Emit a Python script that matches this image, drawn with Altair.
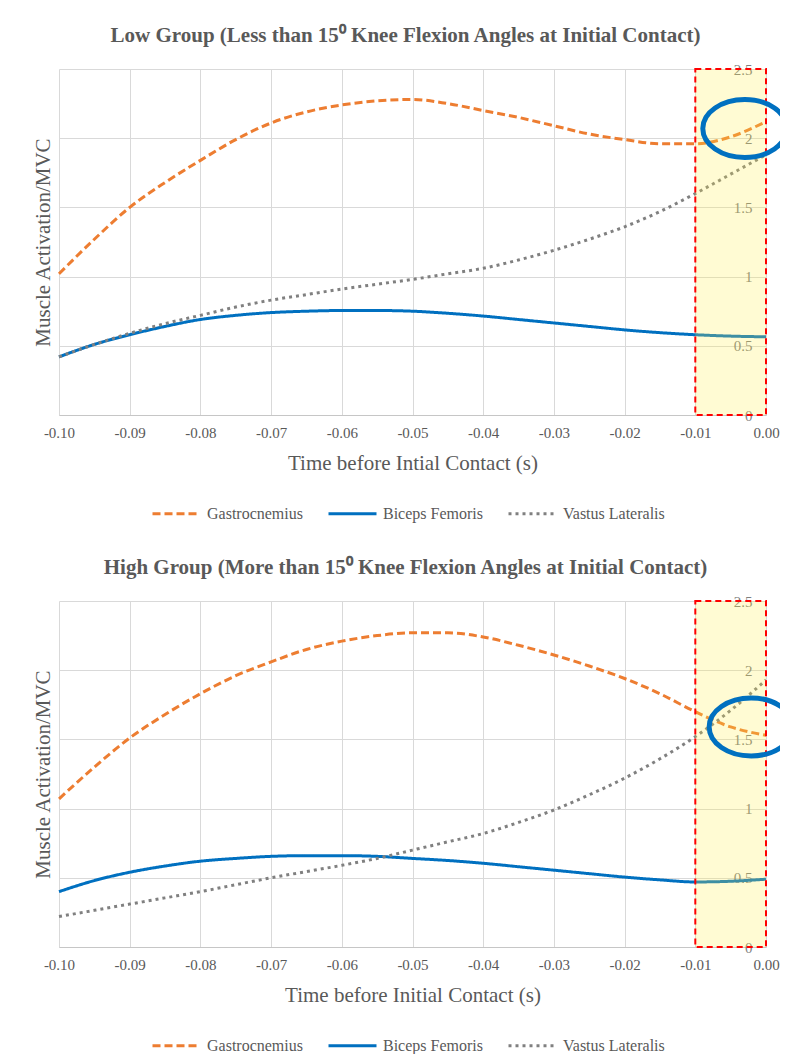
import altair as alt
import pandas as pd

FONT = "Liberation Serif"
TXT = "#595959"
GRID = "#d9d9d9"

# ---- data -------------------------------------------------------------
t = [-0.1, -0.095, -0.09, -0.085, -0.08, -0.075, -0.07, -0.065, -0.06, -0.055,
     -0.05, -0.045, -0.04, -0.035, -0.03, -0.025, -0.02, -0.015, -0.01, -0.005, 0.0]

low_gastro = [1.02, 1.27, 1.50, 1.68, 1.84, 1.99, 2.11, 2.19, 2.24, 2.27,
              2.28, 2.25, 2.20, 2.15, 2.09, 2.03, 1.99, 1.96, 1.96, 2.01, 2.12]
low_biceps = [0.42, 0.51, 0.58, 0.64, 0.69, 0.72, 0.74, 0.75, 0.755, 0.755,
              0.75, 0.735, 0.715, 0.69, 0.665, 0.64, 0.615, 0.595, 0.58, 0.57, 0.565]
low_vastus = [0.42, 0.51, 0.59, 0.66, 0.72, 0.78, 0.83, 0.87, 0.91, 0.945,
              0.98, 1.02, 1.06, 1.12, 1.19, 1.27, 1.36, 1.47, 1.60, 1.74, 1.88]

high_gastro = [1.07, 1.30, 1.51, 1.68, 1.83, 1.96, 2.06, 2.15, 2.21, 2.25,
               2.27, 2.27, 2.24, 2.18, 2.11, 2.03, 1.94, 1.83, 1.70, 1.59, 1.53]
high_biceps = [0.40, 0.48, 0.54, 0.585, 0.62, 0.64, 0.655, 0.66, 0.66, 0.655,
               0.64, 0.625, 0.605, 0.58, 0.555, 0.53, 0.505, 0.485, 0.47, 0.475, 0.49]
high_vastus = [0.22, 0.265, 0.31, 0.355, 0.40, 0.45, 0.50, 0.545, 0.59, 0.64,
               0.70, 0.76, 0.82, 0.90, 0.99, 1.10, 1.22, 1.36, 1.52, 1.71, 1.93]

series_names = ["Gastrocnemius", "Biceps Femoris", "Vastus Lateralis"]
series_colors = ["#ED7D31", "#0070C0", "#808080"]
series_dash = [[8, 4], [1, 0], [3, 4]]

x_ticks = [-0.1, -0.09, -0.08, -0.07, -0.06, -0.05, -0.04, -0.03, -0.02, -0.01, 0.0]
y_ticks = [0, 0.5, 1, 1.5, 2, 2.5]

highlight_t = [-0.01]
highlight_t2 = [0.0]
highlight_v = [0]
highlight_v2 = [2.5]

low_circle_t = [-0.003]
low_circle_v = [2.07]
high_circle_t = [-0.0021]
high_circle_v = [1.59]

titles = ["Low Group (Less than 15\u2070 Knee Flexion Angles at Initial Contact)",
          "High Group (More than 15\u2070 Knee Flexion Angles at Initial Contact)"]
x_titles = ["Time before Intial Contact (s)", "Time before Initial Contact (s)"]

ELLIPSE = "M -1 0 A 1 0.69 0 1 0 1 0 A 1 0.69 0 1 0 -1 0 Z"

W, H = 707, 346


def long_df(g, b, v):
    rows = []
    for name, vals in zip(series_names, [g, b, v]):
        for ti, vi in zip(t, vals):
            rows.append({"series": name, "t": ti, "v": vi})
    return pd.DataFrame(rows)


def panel(title, xtitle, df, ct, cv):
    x_scale = alt.Scale(domain=[-0.1, 0.0], nice=False, zero=False)
    y_scale = alt.Scale(domain=[0, 2.5], nice=False, zero=True)
    x_axis = alt.Axis(
        title=xtitle, values=x_ticks,
        labelExpr="replace(format(datum.value, '.2f'), '\u2212', '-')",
        grid=True, gridColor=GRID, gridWidth=1, domainColor="#c6c6c6", domainWidth=1,
        ticks=False, labelFontSize=15, labelColor=TXT,
        labelPadding=10, labelFlush=False,
        titleFontSize=21, titleColor=TXT, titleFontWeight="normal",
        titlePadding=12,
    )
    y_axis = alt.Axis(
        title="Muscle Activation/MVC", values=y_ticks, format="~g",
        grid=True, gridColor=GRID, gridWidth=1, domain=False, ticks=False, tickSize=0,
        labelFontSize=15, labelColor="#7f7f7f",
        labelPadding=-693, labelAlign="right", labelBaseline="middle",
        titleFontSize=21, titleColor=TXT, titleFontWeight="normal",
        titleX=-6, titleY=H / 2,
    )
    legend = alt.Legend(
        title=None, orient="none", legendX=92, legendY=419, direction="horizontal",
        symbolType="stroke", symbolSize=2304, symbolStrokeWidth=3,
        labelFontSize=16, labelColor=TXT, labelOffset=5,
        columnPadding=19, padding=0, labelLimit=0,
    )
    lines = alt.Chart(df).mark_line(strokeWidth=3, interpolate="monotone").encode(
        x=alt.X("t:Q", scale=x_scale, axis=x_axis),
        y=alt.Y("v:Q", scale=y_scale, axis=y_axis),
        color=alt.Color("series:N", scale=alt.Scale(domain=series_names, range=series_colors),
                        legend=legend),
        strokeDash=alt.StrokeDash("series:N", scale=alt.Scale(domain=series_names, range=series_dash),
                                  legend=legend),
    )
    hl_df = pd.DataFrame({"t": highlight_t, "t2": highlight_t2, "v": highlight_v, "v2": highlight_v2})
    rect = alt.Chart(hl_df).mark_rect(
        fill="#FFEE48", fillOpacity=0.24, stroke="#FF0000", strokeWidth=2, strokeDash=[6, 4]
    ).encode(x="t:Q", x2="t2:Q", y="v:Q", y2="v2:Q")
    c_df = pd.DataFrame({"t": ct, "v": cv})
    ell = alt.Chart(c_df).mark_point(
        shape=ELLIPSE, size=7056, filled=False, stroke="#0070C0", strokeWidth=5, opacity=1,
        strokeJoin="round",
    ).encode(x="t:Q", y="v:Q")
    return alt.layer(lines, rect, ell).properties(
        width=W, height=H,
        title=alt.TitleParams(
            text=title, fontSize=21, fontWeight="bold", color=TXT,
            anchor="middle", frame="group", offset=16, dx=-7,
        ),
    )


top = panel(titles[0], x_titles[0], long_df(low_gastro, low_biceps, low_vastus),
            low_circle_t, low_circle_v)
bottom = panel(titles[1], x_titles[1], long_df(high_gastro, high_biceps, high_vastus),
               high_circle_t, high_circle_v)

chart = alt.vconcat(top, bottom, spacing=35).resolve_legend(
    color="independent", strokeDash="independent"
).properties(
    padding={"left": 24, "top": 17, "right": -16, "bottom": 0},
    background="white",
).configure(font=FONT).configure_axis(
    labelFont=FONT, titleFont=FONT
).configure_legend(
    labelFont=FONT, labelFontSize=16, labelColor=TXT
).configure_title(font=FONT).configure_view(stroke=None)

chart.save("out.html", embed_options={"renderer": "svg", "actions": False})
